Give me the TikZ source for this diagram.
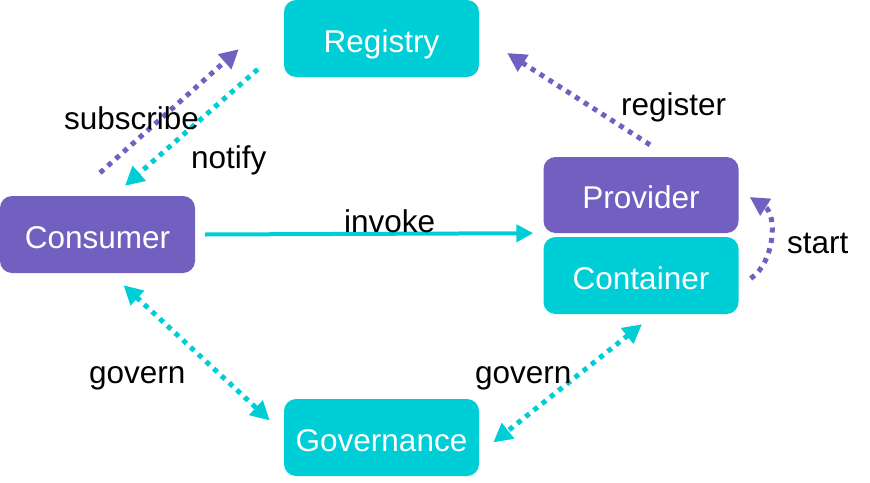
\documentclass[tikz,border=0pt]{standalone}
\usepackage{fontspec}
\setmainfont{Liberation Sans}
\usetikzlibrary{arrows.meta}
\definecolor{boxcyan}{RGB}{0,206,214}
\definecolor{boxpurple}{RGB}{114,96,192}
\begin{document}
\begin{tikzpicture}[x=1pt, y=-1pt,
    box/.style={rectangle, rounded corners=12pt, minimum width=195pt, minimum height=77pt,
        inner sep=0pt, text height=27pt, text depth=0pt, text=white,
        font=\fontsize{31.5}{36}\selectfont},
    lbl/.style={anchor=base west, inner sep=0pt, font=\fontsize{31.5}{36}\selectfont},
    dots/.style={line width=5pt, dash pattern=on 5pt off 5.5pt,
        -{Triangle[length=19pt,width=19pt]}},
    twodots/.style={dots, {Triangle[length=19pt,width=19pt]}-{Triangle[length=19pt,width=19pt]}}]
    \useasboundingbox (0,0) rectangle (870,482);

    \node[box, fill=boxcyan] (registry) at (381.5,38.5) {Registry};
    \node[box, fill=boxpurple] (consumer) at (97.5,234.5) {Consumer};
    \node[box, fill=boxpurple, minimum height=76pt] (provider) at (641,195) {Provider};
    \node[box, fill=boxcyan] (container) at (641,275.5) {Container};
    \node[box, fill=boxcyan] (governance) at (381.5,437.5) {Governance};

    \draw[dots, boxpurple] ([shift={(2.5,-23)}]consumer.north) -- ([shift={(-45,-28)}]registry.south west);
    \draw[dots, boxcyan] ([shift={(-26,-8)}]registry.south west) -- ([shift={(27.5,-10)}]consumer.north);
    \draw[dots, boxpurple] ([shift={(9,-12)}]provider.north) -- ([shift={(28,14.5)}]registry.east);
    \draw[dots, boxpurple] ([shift={(12,3)}]container.east) .. controls +(24,-16) and +(28,18) .. ([shift={(11,2)}]provider.east);
    \draw[boxcyan, line width=4pt, -{Triangle[length=17pt,width=17pt]}] ([xshift=10]consumer.east) -- ([shift={(-10,0)}]provider.south west);
    \draw[twodots, boxcyan] ([shift={(26,12)}]consumer.south) -- ([shift={(-14,-17)}]governance.west);
    \draw[twodots, boxcyan] ([shift={(1,10)}]container.south) -- ([shift={(14,5)}]governance.east);

    \node[lbl] (subscribe) at (64,129) {subscribe};
    \node[lbl] (notify) at (191,168) {notify};
    \node[lbl] (register) at (621,115) {register};
    \node[lbl] (start) at (787,253) {start};
    \node[lbl] (invoke) at (344,232) {invoke};
    \node[lbl] (governl) at (89,383) {govern};
    \node[lbl] (governr) at (475,383) {govern};
\end{tikzpicture}
\end{document}
